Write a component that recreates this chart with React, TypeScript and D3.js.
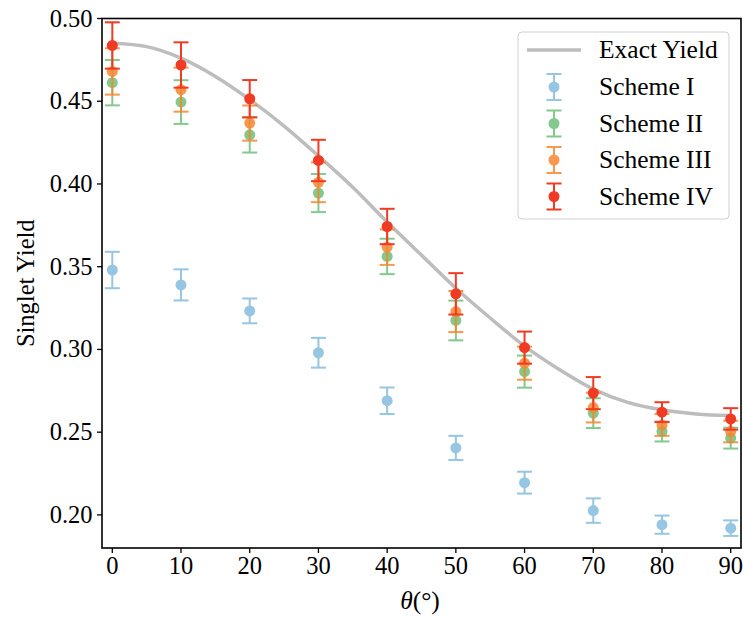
import React from "react";
import * as d3 from "d3";

const thetas = [0, 10, 20, 30, 40, 50, 60, 70, 80, 90];
const schemeI = [0.348, 0.339, 0.3233, 0.298, 0.269, 0.2405, 0.2195, 0.2026, 0.1941, 0.192];
const errI = [0.011, 0.0094, 0.0075, 0.009, 0.008, 0.0073, 0.0066, 0.0074, 0.0055, 0.0047];
const schemeII = [0.4612, 0.4495, 0.4297, 0.3945, 0.3562, 0.3175, 0.2866, 0.2615, 0.2504, 0.2464];
const errII = [0.0137, 0.0132, 0.0107, 0.0115, 0.0107, 0.012, 0.0097, 0.009, 0.006, 0.0063];
const schemeIII = [0.468, 0.457, 0.4368, 0.401, 0.3618, 0.3229, 0.2917, 0.2649, 0.2544, 0.2504];
const errIII = [0.014, 0.0133, 0.0106, 0.012, 0.0107, 0.0124, 0.01, 0.009, 0.0066, 0.0065];
const schemeIV = [0.4837, 0.4719, 0.4515, 0.4142, 0.3743, 0.3336, 0.3011, 0.2736, 0.2621, 0.258];
const errIV = [0.014, 0.0137, 0.0113, 0.0125, 0.0107, 0.0125, 0.0097, 0.0097, 0.006, 0.0065];

const exactTheta = [0, 5, 10, 15, 20, 25, 30, 35, 40, 45, 50, 55, 60, 65, 70, 75, 80, 85, 90];
const exactYield = [0.485, 0.483, 0.476, 0.465, 0.451, 0.435, 0.417, 0.398, 0.377, 0.357, 0.337, 0.319, 0.302, 0.288, 0.276, 0.268, 0.2635, 0.261, 0.26];

const xTicks = [0, 10, 20, 30, 40, 50, 60, 70, 80, 90];
const yTicks = [0.2, 0.25, 0.3, 0.35, 0.4, 0.45, 0.5];

const seriesNames = ["Scheme I", "Scheme II", "Scheme III", "Scheme IV"];
const seriesValues = [schemeI, schemeII, schemeIII, schemeIV];
const seriesErrors = [errI, errII, errIII, errIV];
const seriesColors = ["#6baed6", "#5bb865", "#f7862e", "#f03b24"];
const seriesOpacity = [0.7, 0.75, 0.85, 1];

const W = 743;
const H = 618;
const L = 102, R = 741, T = 18.5, B = 548;
const FONT = "'Liberation Serif', 'Times New Roman', serif";

export default function App() {
  const x = d3.scaleLinear().domain([-1.5, 91.5]).range([L, R]);
  const y = d3.scaleLinear().domain([0.18, 0.5]).range([B, T]);
  const line = d3
    .line<number>()
    .x((_, i) => x(exactTheta[i]))
    .y((d) => y(d))
    .curve(d3.curveMonotoneX);
  const cap = 7.5;
  const r = 5.5;
  const fmt = d3.format(".2f");
  const fs = 24.5;
  const lfs = 25.5;

  const rowY = [50, 87, 123.5, 160, 196.5];

  return (
    <svg
      width={W}
      height={H}
      style={{ position: "absolute", left: 0, top: 0, background: "#fff", fontFamily: FONT }}
    >
      <rect x={0} y={0} width={W} height={H} fill="#fff" />
      <path d={line(exactYield) || ""} fill="none" stroke="#bdbdbd" strokeWidth={3.5} />
      {seriesValues.map((vals, s) => (
        <g key={s} opacity={seriesOpacity[s]}>
          {vals.map((v, i) => {
            const cx = x(thetas[i]);
            const e = seriesErrors[s][i];
            const y1 = y(v + e), y2 = y(v - e);
            return (
              <g key={i}>
                <line x1={cx} x2={cx} y1={y1} y2={y2} stroke={seriesColors[s]} strokeWidth={2} />
                <line x1={cx - cap} x2={cx + cap} y1={y1} y2={y1} stroke={seriesColors[s]} strokeWidth={2} />
                <line x1={cx - cap} x2={cx + cap} y1={y2} y2={y2} stroke={seriesColors[s]} strokeWidth={2} />
                <circle cx={cx} cy={y(v)} r={r} fill={seriesColors[s]} />
              </g>
            );
          })}
        </g>
      ))}
      <rect x={L} y={T} width={R - L} height={B - T} fill="none" stroke="#000" strokeWidth={1.6} />
      {xTicks.map((t) => (
        <g key={t}>
          <line x1={x(t)} x2={x(t)} y1={B} y2={B + 5} stroke="#000" strokeWidth={1.3} />
          <text x={x(t)} y={574} fontSize={fs} textAnchor="middle" fill="#000">
            {t}
          </text>
        </g>
      ))}
      {yTicks.map((t) => (
        <g key={t}>
          <line x1={L - 5} x2={L} y1={y(t)} y2={y(t)} stroke="#000" strokeWidth={1.3} />
          <text x={92.5} y={y(t) + 8} fontSize={fs} textAnchor="end" fill="#000">
            {fmt(t)}
          </text>
        </g>
      ))}
      <text x={420} y={609} fontSize={fs + 1} textAnchor="middle" fill="#000">
        <tspan fontStyle="italic">θ</tspan>(°)
      </text>
      <text
        transform={`translate(34, ${(T + B) / 2}) rotate(-90)`}
        fontSize={fs}
        textAnchor="middle"
        fill="#000"
      >
        Singlet Yield
      </text>
      <rect
        x={518}
        y={32}
        width={211}
        height={187}
        rx={4}
        fill="#fff"
        fillOpacity={0.8}
        stroke="#d0d0d0"
        strokeWidth={1}
      />
      <line x1={527} x2={581} y1={rowY[0]} y2={rowY[0]} stroke="#bdbdbd" strokeWidth={3.5} />
      <text x={599} y={rowY[0] + 8} fontSize={lfs} fill="#000">
        Exact Yield
      </text>
      {seriesNames.map((n, s) => {
        const cy = rowY[s + 1];
        const cx = 554;
        return (
          <g key={n}>
            <g opacity={seriesOpacity[s]}>
              <line x1={cx} x2={cx} y1={cy - 13} y2={cy + 13} stroke={seriesColors[s]} strokeWidth={2} />
              <line x1={cx - cap} x2={cx + cap} y1={cy - 13} y2={cy - 13} stroke={seriesColors[s]} strokeWidth={2} />
              <line x1={cx - cap} x2={cx + cap} y1={cy + 13} y2={cy + 13} stroke={seriesColors[s]} strokeWidth={2} />
              <circle cx={cx} cy={cy} r={r} fill={seriesColors[s]} />
            </g>
            <text x={599} y={cy + 8} fontSize={lfs} fill="#000">
              {n}
            </text>
          </g>
        );
      })}
    </svg>
  );
}
